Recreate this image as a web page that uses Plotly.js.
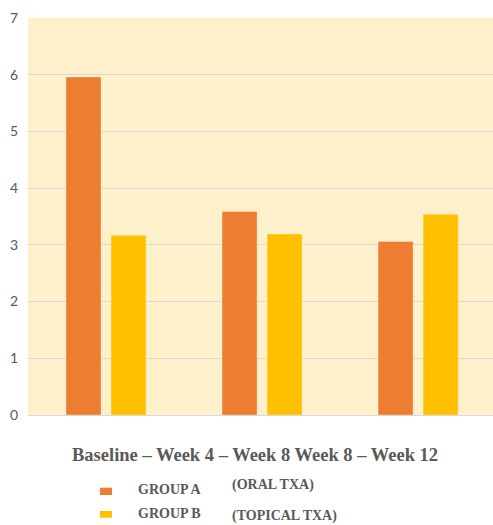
<!DOCTYPE html>
<html>
<head>
<meta charset="utf-8">
<script src="https://cdn.plot.ly/plotly-3.0.1.min.js"></script>
<style>html,body{margin:0;padding:0;background:#fff;}#chart{width:493px;height:525px;}</style>
</head>
<body>
<div id="chart"></div>
<script>
// ---- data ----
var categories = ["Baseline – Week 4", "Week 4 – Week 8", "Week 8 – Week 12"];
var groupAValues = [5.96, 3.59, 3.06];
var groupBValues = [3.17, 3.19, 3.54];
var seriesNames = ["GROUP A", "GROUP B"];
var seriesNotes = ["(ORAL TXA)", "(TOPICAL TXA)"];
var yTicks = [0, 1, 2, 3, 4, 5, 6, 7];
var xTitle = "Baseline – Week 4 – Week 8 Week 8 – Week 12";

// ---- layout helpers (pixel -> paper) ----
var W = 493, H = 525, ML = 28, MR = 0, MT = 18, MB = 110;
var PW = W - ML - MR, PH = H - MT - MB;
function px(x){ return (x - ML) / PW; }
function py(y){ return (H - MB - y) / PH; }

var colors = ["#ED7D31", "#FFC000"];
var textGray = "#595959";
var serif = "Liberation Serif, Times New Roman, serif";

var traces = [
  {type: "bar", x: categories, y: groupAValues, name: seriesNames[0],
   marker: {color: colors[0], line: {color: "rgba(255,255,255,0.3)", width: 1}}, hoverinfo: "y"},
  {type: "bar", x: categories, y: groupBValues, name: seriesNames[1],
   marker: {color: colors[1], line: {color: "rgba(255,255,255,0.3)", width: 1}}, hoverinfo: "y"}
];

var legendFont = {family: serif, size: 14, color: textGray, weight: "bold"};
var layout = {
  width: W, height: H,
  margin: {l: ML, r: MR, t: MT, b: MB, pad: 0},
  paper_bgcolor: "#ffffff",
  plot_bgcolor: "#FFF0CC",
  showlegend: false,
  barmode: "group",
  bargap: 0.423,
  bargroupgap: 0.222,
  xaxis: {
    range: [-0.5, 2.48],
    showticklabels: false,
    showgrid: false,
    zeroline: false,
    showline: false,
    ticks: "",
    fixedrange: true
  },
  yaxis: {
    range: [0, 7],
    tickvals: yTicks,
    ticktext: yTicks.map(String),
    showgrid: true,
    gridcolor: "#D9D9D9",
    gridwidth: 1,
    zeroline: true,
    zerolinecolor: "#D9D9D9",
    zerolinewidth: 1,
    showline: false,
    ticks: "",
    ticklabelstandoff: 9,
    tickfont: {family: "Lato, Open Sans, sans-serif", size: 14, color: textGray},
    fixedrange: true
  },
  shapes: [
    {type: "rect", xref: "paper", yref: "paper", x0: px(100), x1: px(112), y0: py(495), y1: py(487.7),
     fillcolor: colors[0], line: {width: 0}},
    {type: "rect", xref: "paper", yref: "paper", x0: px(100), x1: px(112), y0: py(517.7), y1: py(511),
     fillcolor: colors[1], line: {width: 0}}
  ],
  annotations: [
    {text: xTitle, xref: "paper", yref: "paper", x: px(255), y: py(455), xanchor: "center", yanchor: "middle",
     showarrow: false, font: {family: serif, size: 18.5, color: textGray, weight: "bold"}},
    {text: seriesNames[0], xref: "paper", yref: "paper", x: px(136), y: py(490), xanchor: "left", yanchor: "middle",
     showarrow: false, font: legendFont},
    {text: seriesNotes[0], xref: "paper", yref: "paper", x: px(230), y: py(485), xanchor: "left", yanchor: "middle",
     showarrow: false, font: legendFont},
    {text: seriesNames[1], xref: "paper", yref: "paper", x: px(136), y: py(513), xanchor: "left", yanchor: "middle",
     showarrow: false, font: legendFont},
    {text: seriesNotes[1], xref: "paper", yref: "paper", x: px(230), y: py(515.7), xanchor: "left", yanchor: "middle",
     showarrow: false, font: legendFont}
  ]
};

Plotly.newPlot("chart", traces, layout, {displayModeBar: false, staticPlot: true});
</script>
</body>
</html>
